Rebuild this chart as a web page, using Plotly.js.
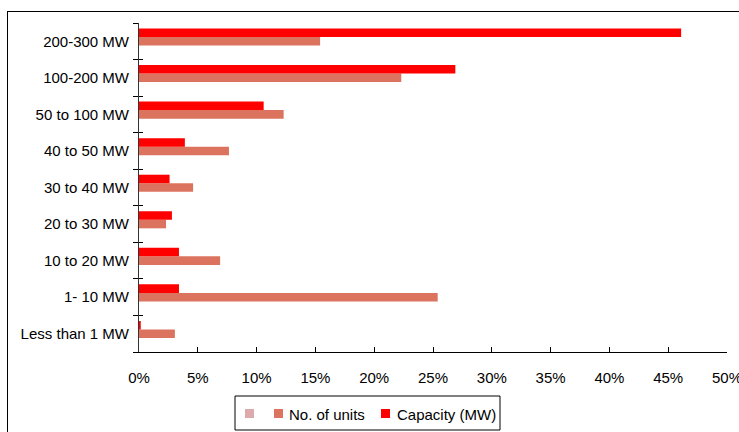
<!DOCTYPE html>
<html><head><meta charset="utf-8">
<script src="https://cdn.plot.ly/plotly-3.0.1.min.js"></script>
<style>body{margin:0;padding:0;background:#fff}#frame{position:absolute;left:7px;top:11px;width:760px;height:440px;border:1.5px solid #000;pointer-events:none;z-index:10}</style>
</head><body>
<div id="chart" style="width:739px;height:432px"></div>
<div id="frame"></div>
<script>
const categories = ["Less than 1 MW","1- 10 MW","10 to 20 MW","20 to 30 MW","30 to 40 MW","40 to 50 MW","50 to 100 MW","100-200 MW","200-300 MW"];
const blankSeries = [null,null,null,null,null,null,null,null,null];
const unitsPct = [3.05,25.4,6.9,2.3,4.6,7.65,12.3,22.3,15.4];
const capacityPct = [0.15,3.4,3.4,2.8,2.6,3.9,10.6,26.9,46.1];
const xTickVals = [0,5,10,15,20,25,30,35,40,45,50];
const xTickText = xTickVals.map(v => v + "%");
const seriesNames = ["", "No. of units", "Capacity (MW)"];
const seriesColors = ["#dcaaaa", "#dc735f", "#ff0000"];

const W = 739, H = 432, ML = 139, MR = 12, MT = 23, MB = 80;
const PW = W - ML - MR, PH = H - MT - MB;
const px = x => (x - ML) / PW;
const py = y => (H - MB - y) / PH;

const traces = [
  {type:"bar", orientation:"h", name:seriesNames[0], y:categories, x:blankSeries, marker:{color:seriesColors[0]}},
  {type:"bar", orientation:"h", name:seriesNames[1], y:categories, x:unitsPct, marker:{color:seriesColors[1]}},
  {type:"bar", orientation:"h", name:seriesNames[2], y:categories, x:capacityPct, marker:{color:seriesColors[2]}},
  {type:"bar", orientation:"h", y:categories, x:blankSeries, yaxis:"y2", showlegend:false, hoverinfo:"skip"}
];

// manual legend (box, swatches, labels)
const shapes = [
  {type:"rect", xref:"paper", yref:"paper", x0:px(235), x1:px(500), y0:py(396), y1:py(430), line:{color:"#000", width:1}, fillcolor:"rgba(0,0,0,0)"}
];
const swatchX = [245, 274, 381];
const textX = [258, 287, 395];
const annotations = [];
for (let i = 0; i < seriesNames.length; i++) {
  shapes.push({type:"rect", xref:"paper", yref:"paper", x0:px(swatchX[i]), x1:px(swatchX[i]+9), y0:py(418), y1:py(409), line:{width:0}, fillcolor:seriesColors[i]});
  if (seriesNames[i]) annotations.push({xref:"paper", yref:"paper", x:px(textX[i]), y:py(414), xanchor:"left", yanchor:"middle", text:seriesNames[i], showarrow:false, font:{size:15, color:"#000"}});
}

const layout = {
  width:W, height:H,
  margin:{l:ML, r:MR, t:MT, b:MB},
  paper_bgcolor:"#fff", plot_bgcolor:"#fff",
  font:{family:"Liberation Sans, Arial, sans-serif", size:15, color:"#000"},
  barmode:"group", bargap:0.3, bargroupgap:0,
  showlegend:false,
  shapes:shapes, annotations:annotations,
  xaxis:{range:[0,50], tickvals:xTickVals, ticktext:xTickText, showgrid:false, zeroline:false, automargin:false,
    showline:true, linecolor:"#000", linewidth:1, ticks:"inside", ticklen:5, tickcolor:"#000",
    ticklabeloverflow:"allow", ticklabelstandoff:12, tickfont:{size:15}},
  yaxis:{type:"category", categoryarray:categories, showgrid:false, zeroline:false, automargin:false,
    showline:true, linecolor:"#333", linewidth:1, ticks:"outside", tickson:"boundaries", ticklen:5, tickcolor:"#000",
    ticklabelstandoff:6, tickfont:{size:15}},
  yaxis2:{type:"category", categoryarray:categories, overlaying:"y", side:"left", showgrid:false, zeroline:false,
    showline:false, ticks:"inside", tickson:"boundaries", ticklen:4, tickcolor:"#000", showticklabels:false}
};
Plotly.newPlot("chart", traces, layout, {displayModeBar:false, staticPlot:true});
</script>
</body></html>
